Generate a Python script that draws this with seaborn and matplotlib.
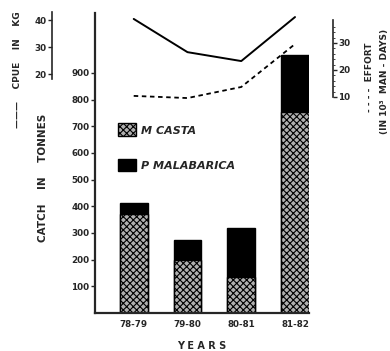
import numpy as np
import matplotlib
matplotlib.use('Agg')
import matplotlib.pyplot as plt
import seaborn as sns

# values
years = ['78-79', '79-80', '80-81', '81-82']
m_casta = [370, 198, 135, 753]
p_malabarica = [42, 75, 183, 213]
cpue = [40.4, 28.1, 24.8, 41.1]
effort = [10.4, 9.6, 13.7, 29.6]

total = [a + b for a, b in zip(m_casta, p_malabarica)]

sns.set_style('white')
plt.rcParams['font.family'] = ['DejaVu Sans']
plt.rcParams['font.weight'] = 'bold'
plt.rcParams['hatch.linewidth'] = 0.8

fig = plt.figure(figsize=(3.9, 3.51), dpi=100)
ax = fig.add_axes([95/390, 1-313/351, 214/390, 300/351])

sns.barplot(x=years, y=total, color='black', width=0.52, ax=ax,
            edgecolor='black', linewidth=1, saturation=1, label='P MALABARICA')
sns.barplot(x=years, y=m_casta, color='#b0b0b0', width=0.52, ax=ax,
            edgecolor='black', linewidth=1, saturation=1, hatch='xxxxx', label='M CASTA')

ax.set_xlim(-0.72, 3.26)
ax.set_ylim(0, 1125)
ax.set_yticks(range(100, 1000, 100))
ax.tick_params(axis='y', labelsize=6.3, length=3, width=1, direction='out', left=True, pad=1)
ax.tick_params(axis='x', labelsize=6.3, length=0, pad=5)
for s in ['top', 'right']:
    ax.spines[s].set_visible(False)
ax.spines['left'].set_linewidth(1.6)
ax.spines['bottom'].set_linewidth(1.6)
ax.set_ylabel('CATCH    IN    TONNES', fontsize=7.5, fontweight='bold')
ax.yaxis.set_label_coords(-0.22, 0.45)
ax.set_xlabel('Y E A R S', fontsize=7, fontweight='bold', labelpad=9)

h, l = ax.get_legend_handles_labels()
ax.legend(h[::-1], l[::-1], loc='upper left', bbox_to_anchor=(0.06, 0.665), frameon=False,
          prop={'size': 8, 'weight': 'bold', 'style': 'italic'},
          handlelength=1.6, handleheight=1.4, labelspacing=2.0, handletextpad=0.5)

# CPUE axis (left, outside)
ax_c = ax.twinx()
sns.lineplot(x=np.arange(4), y=cpue, color='black', lw=1.4, ax=ax_c)
ax_c.set_ylim(-68.5, 42.6)
ax_c.yaxis.set_ticks_position('left')
ax_c.yaxis.set_label_position('left')
for s in ['top', 'right', 'bottom']:
    ax_c.spines[s].set_visible(False)
ax_c.spines['left'].set_position(('outward', 31))
ax_c.spines['left'].set_bounds(18, 43)
ax_c.spines['left'].set_linewidth(1.2)
ax_c.set_yticks([20, 30, 40])
ax_c.tick_params(axis='y', labelsize=6.3, length=3, width=1, pad=1)
ax_c.set_ylabel('')

# effort axis (right, outside)
ax_e = ax.twinx()
sns.lineplot(x=np.arange(4), y=effort, color='black', lw=1.3, ax=ax_e)
ax_e.lines[0].set_dashes([2.5, 2])
ax_e.set_ylim(-70, 41.1)
for s in ['top', 'left', 'bottom']:
    ax_e.spines[s].set_visible(False)
ax_e.spines['right'].set_position(('outward', 17))
ax_e.spines['right'].set_bounds(10, 38.5)
ax_e.spines['right'].set_linewidth(1.2)
ax_e.set_yticks([10, 20, 30])
ax_e.set_yticks(np.arange(10, 38, 2), minor=True)
ax_e.tick_params(axis='y', which='major', labelsize=6.3, length=3, width=1, pad=1)
ax_e.tick_params(axis='y', which='minor', length=1.5, width=0.6)
ax_e.set_ylabel('')

fig.text(18/390, 1-70/351, '———    CPUE    IN    KG', rotation=90, ha='center', va='center',
         fontsize=6.5, fontweight='bold')
fig.text(370/390, 1-77/351, '- - - -  EFFORT', rotation=90, ha='center', va='center',
         fontsize=6.5, fontweight='bold')
fig.text(384/390, 1-81/351, '(IN 10³  MAN - DAYS)', rotation=90, ha='center', va='center',
         fontsize=6.5, fontweight='bold')

fig.savefig('out.png', dpi=100)
